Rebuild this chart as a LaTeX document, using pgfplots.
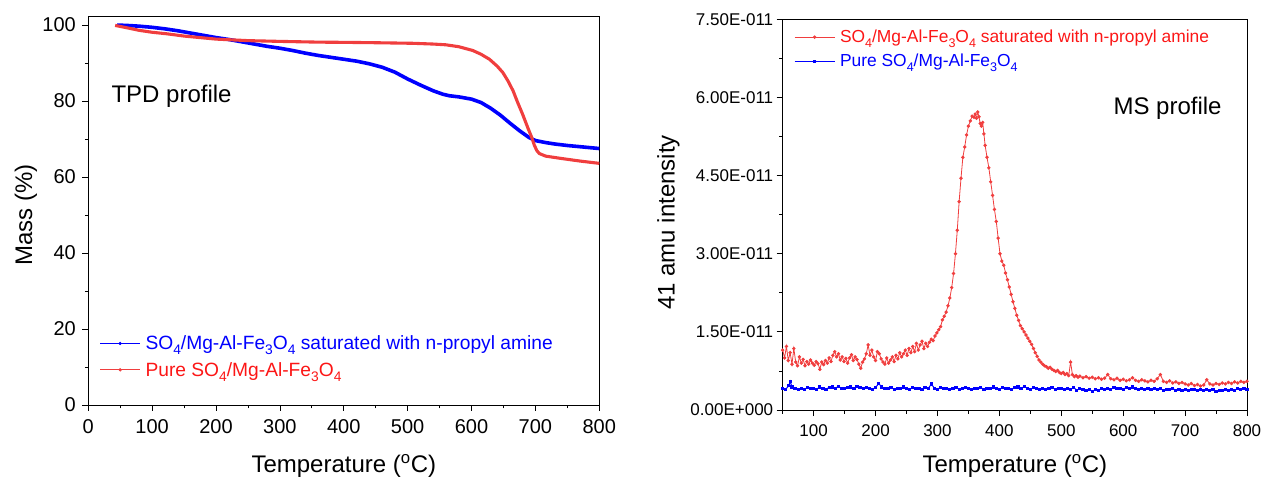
\documentclass[border=0pt]{standalone}
\usepackage{fontspec}
\setmainfont{Liberation Sans}
\usepackage{graphicx}
\usepackage{pgfplots}
\pgfplotsset{compat=1.18}
\definecolor{tgred}{RGB}{240,62,62}
\definecolor{txred}{RGB}{252,22,22}
\definecolor{tgblue}{RGB}{0,0,255}
\newcommand{\fs}[1]{\fontsize{#1}{#1}\selectfont}
\newcommand{\sub}[1]{\raisebox{-0.27em}{\scalebox{0.72}{#1}}}
\newcommand{\cmpd}{SO\sub{4}/Mg-Al-Fe\sub{3}O\sub{4}}
\pgfplotsset{
  myleg/.style={
    legend cell align=left,
    legend image code/.code={%
      \draw[##1,mark=none] (0pt,0pt) -- (40pt,0pt);
      \draw[##1,only marks] plot coordinates {(20pt,0pt)};
    },
  },
}
\begin{document}
\begin{tikzpicture}[x=1pt,y=1pt]
\useasboundingbox (0,0) rectangle (1263,479);
% ---------------- left: TPD ----------------
\begin{axis}[
  at={(88.3pt,74pt)}, anchor=south west,
  scale only axis, width=511pt, height=388.3pt,
  xmin=0, xmax=800, ymin=0, ymax=102.2,
  xtick={0,100,...,800}, ytick={0,20,40,60,80,100},
  minor x tick num=1, minor y tick num=1,
  tick align=outside, xtick pos=bottom, ytick pos=left,
  major tick length=6pt, minor tick length=3.5pt,
  tick style={black, line width=0.8pt},
  axis line style={line width=0.9pt},
  ticklabel style={font=\fs{20}},
  xticklabel style={yshift=-5pt},
  yticklabel style={xshift=-3pt},
  /pgf/number format/assume math mode=true,
  xlabel={Temperature (\textsuperscript{o}C)},
  ylabel={Mass (\%)},
  label style={font=\fs{24}},
  xlabel style={at={(axis description cs:0.5,-0.175)}, anchor=base},
  ylabel style={at={(axis description cs:-0.122,0.49)}, anchor=center},
  myleg,
  legend style={at={(0.022,0.184)}, anchor=north west, draw=none, fill=none,
    font=\fs{19.2}, row sep=7pt, column sep=3pt, inner sep=0pt, nodes={inner sep=2pt}},
]
\addplot[tgblue, line width=3.6pt, forget plot] coordinates {
(45,100.0)(60,99.9)(80,99.7)(100,99.4)(120,99.0)(140,98.5)(160,97.9)(180,97.3)
(200,96.7)(220,96.2)(240,95.6)(260,95.0)(280,94.4)(300,93.9)(320,93.3)(340,92.6)
(360,92.0)(380,91.5)(400,91.0)(420,90.5)(440,89.8)(460,88.9)(480,87.6)(500,85.8)
(520,84.2)(540,82.7)(555,81.8)(565,81.4)(580,81.1)(600,80.5)(615,79.6)(630,78.1)
(645,76.3)(660,74.2)(675,72.2)(690,70.4)(700,69.6)(715,69.1)(730,68.7)(750,68.3)
(775,67.9)(800,67.5)};
\addplot[tgred, line width=3.1pt, forget plot] coordinates {
(42,99.9)(60,99.3)(80,98.6)(100,98.1)(123,97.7)(150,97.1)(175,96.7)(200,96.3)
(250,95.9)(300,95.7)(362,95.5)(400,95.45)(450,95.35)(508,95.2)(540,95.0)(560,94.8)
(580,94.3)(602,93.3)(615,92.3)(628,91.0)(640,89.2)(649,87.5)(657,85.3)(665,82.7)
(672,79.7)(680,76.5)(688,73.0)(694,70.5)(698,68.5)(702,67.0)(706,66.2)(716,65.5)
(740,64.9)(770,64.2)(800,63.6)};
\addlegendimage{tgblue, line width=0.8pt, mark=*, mark size=1.2pt}
\addlegendentry[text=tgblue]{\cmpd{} saturated with n-propyl amine}
\addlegendimage{tgred, line width=0.8pt, mark=*, mark size=1.2pt}
\addlegendentry[text=txred]{Pure \cmpd}
\end{axis}
\node[anchor=base west, font=\fs{24}] at (108,376.3) {TPD profile};
% ---------------- right: MS ----------------
\begin{axis}[
  at={(782.7pt,69pt)}, anchor=south west,
  scale only axis, width=464.3pt, height=390.7pt,
  xmin=50, xmax=800, ymin=0, ymax=7.5,
  xtick={100,200,...,800}, minor xtick={50,150,...,750},
  ytick={0,1.5,3,4.5,6,7.5}, minor ytick={0.75,2.25,3.75,5.25,6.75},
  yticklabels={0.00E+000,1.50E-011,3.00E-011,4.50E-011,6.00E-011,7.50E-011},
  tick align=outside, xtick pos=bottom, ytick pos=left,
  major tick length=6pt, minor tick length=3.5pt,
  tick style={black, line width=0.8pt},
  axis line style={line width=0.9pt},
  ticklabel style={font=\fs{17}},
  xticklabel style={yshift=-5pt},
  /pgf/number format/assume math mode=true,
  xlabel={Temperature (\textsuperscript{o}C)},
  ylabel={41 amu intensity},
  label style={font=\fs{24}},
  xlabel style={at={(axis description cs:0.5,-0.161)}, anchor=base},
  ylabel style={at={(axis description cs:-0.246,0.48)}, anchor=center},
  myleg,
  legend style={at={(0.024,0.978)}, anchor=north west, draw=none, fill=none,
    font=\fs{17.4}, row sep=6pt, column sep=3pt, inner sep=0pt, nodes={inner sep=2pt}},
]
\addplot[tgred, line width=0.8pt, mark=*, mark size=1.3pt] coordinates {
(50,1.15)(53,1.00)(56,1.22)(59,0.95)(62,1.10)(65,0.88)(68,1.18)(71,0.92)(74,0.85)
(77,1.02)(80,0.90)(83,0.97)(86,0.85)(89,0.93)(92,0.88)(95,0.96)(98,0.90)(101,0.86)
(104,0.93)(107,0.89)(110,0.78)(113,0.92)(116,0.87)(119,0.95)(122,0.90)(125,1.00)
(128,0.93)(131,1.05)(134,1.12)(137,1.02)(140,1.08)(143,0.96)(146,1.02)(149,0.93)
(152,0.99)(155,0.90)(158,1.00)(161,1.06)(164,0.95)(167,1.02)(170,0.97)(173,0.88)
(176,0.80)(179,0.92)(182,0.98)(185,1.08)(188,1.25)(191,1.05)(194,1.15)(197,1.02)
(200,0.95)(203,1.12)(206,1.08)(209,0.98)(212,0.92)(215,0.88)(218,1.00)(221,0.90)
(224,0.96)(227,1.02)(230,0.93)(233,1.05)(236,0.98)(239,1.10)(242,1.02)(245,1.08)
(248,1.15)(251,1.05)(254,1.18)(257,1.10)(260,1.22)(263,1.12)(266,1.28)(269,1.15)
(272,1.25)(275,1.32)(278,1.18)(281,1.28)(284,1.22)(287,1.30)(290,1.36)(293,1.33)
(296,1.42)(299,1.48)(302,1.54)(305,1.60)(308,1.73)(311,1.80)(314,1.88)(317,2.00)
(320,2.15)(323,2.35)(326,2.62)(329,3.00)(332,3.45)(335,4.00)(338,4.45)(341,4.85)
(344,5.05)(347,5.28)(350,5.45)(353,5.55)(356,5.64)(359,5.62)(361,5.68)(363,5.60)
(365,5.72)(367,5.63)(369,5.50)(371,5.45)(373,5.52)(375,5.30)(377,5.08)(380,4.85)
(383,4.65)(386,4.38)(389,4.12)(392,3.85)(395,3.62)(398,3.30)(401,3.00)(404,2.86)
(407,2.78)(410,2.63)(413,2.50)(416,2.36)(419,2.22)(422,2.08)(425,1.95)(428,1.82)
(431,1.72)(434,1.62)(437,1.56)(440,1.50)(443,1.44)(446,1.38)(449,1.32)(452,1.26)
(455,1.18)(458,1.10)(461,1.03)(464,0.96)(467,0.92)(470,0.88)(473,0.85)(476,0.83)
(479,0.80)(482,0.82)(485,0.78)(488,0.76)(491,0.74)(494,0.76)(497,0.72)(500,0.70)
(503,0.72)(506,0.68)(509,0.70)(512,0.66)(515,0.92)(518,0.68)(521,0.64)(524,0.66)
(527,0.63)(530,0.65)(535,0.62)(540,0.64)(545,0.61)(550,0.63)(555,0.60)(560,0.62)
(565,0.59)(570,0.61)(575,0.68)(580,0.60)(585,0.58)(590,0.61)(595,0.57)(600,0.59)
(605,0.56)(610,0.58)(615,0.62)(620,0.57)(625,0.55)(630,0.58)(635,0.56)(640,0.54)
(645,0.57)(650,0.55)(655,0.60)(660,0.68)(665,0.55)(670,0.53)(675,0.56)(680,0.52)
(685,0.54)(690,0.51)(695,0.53)(700,0.50)(705,0.48)(710,0.51)(715,0.47)(720,0.49)
(725,0.46)(730,0.48)(735,0.58)(740,0.50)(745,0.48)(750,0.51)(755,0.49)(760,0.52)
(765,0.50)(770,0.53)(775,0.51)(780,0.54)(785,0.52)(790,0.55)(795,0.53)(800,0.55)};
\addlegendentry[text=txred]{\cmpd{} saturated with n-propyl amine}
\addplot[tgblue, line width=1pt, mark=square*, mark size=1.1pt] coordinates {
(50,0.42)(55,0.40)(60,0.47)(62,0.55)(65,0.44)(70,0.41)(75,0.39)(80,0.42)(85,0.40)
(90,0.43)(95,0.41)(100,0.42)(105,0.40)(110,0.44)(115,0.42)(120,0.40)(125,0.43)
(130,0.44)(135,0.42)(140,0.45)(145,0.42)(150,0.41)(155,0.43)(160,0.44)(165,0.42)
(170,0.45)(175,0.43)(180,0.41)(185,0.43)(190,0.42)(195,0.40)(200,0.43)(205,0.51)
(210,0.44)(215,0.42)(220,0.41)(225,0.43)(230,0.40)(235,0.42)(240,0.41)(245,0.44)
(250,0.42)(255,0.40)(260,0.43)(265,0.41)(270,0.42)(275,0.40)(280,0.43)(285,0.41)
(290,0.50)(295,0.42)(300,0.40)(305,0.43)(310,0.41)(315,0.42)(320,0.39)(325,0.42)
(330,0.43)(335,0.40)(340,0.41)(345,0.43)(350,0.41)(355,0.39)(360,0.42)(365,0.41)
(370,0.43)(375,0.40)(380,0.42)(385,0.41)(390,0.44)(395,0.42)(400,0.40)(405,0.43)
(410,0.41)(415,0.42)(420,0.40)(425,0.43)(430,0.44)(435,0.41)(440,0.45)(445,0.42)
(450,0.40)(455,0.43)(460,0.41)(465,0.39)(470,0.42)(475,0.40)(480,0.41)(485,0.43)
(490,0.40)(495,0.42)(500,0.41)(505,0.39)(510,0.42)(515,0.40)(520,0.43)(525,0.38)
(530,0.41)(535,0.39)(540,0.37)(545,0.40)(550,0.36)(555,0.39)(560,0.38)(565,0.41)
(570,0.39)(575,0.42)(580,0.40)(585,0.43)(590,0.41)(595,0.42)(600,0.40)(605,0.43)
(610,0.41)(615,0.44)(620,0.42)(625,0.40)(630,0.41)(635,0.39)(640,0.41)(645,0.40)
(650,0.42)(655,0.39)(660,0.41)(665,0.38)(670,0.40)(675,0.39)(680,0.41)(685,0.38)
(690,0.40)(695,0.37)(700,0.39)(705,0.38)(710,0.40)(715,0.39)(720,0.37)(725,0.40)
(730,0.38)(735,0.39)(740,0.37)(745,0.39)(750,0.36)(755,0.38)(760,0.37)(765,0.39)
(770,0.38)(775,0.40)(780,0.38)(785,0.41)(790,0.39)(795,0.41)(800,0.40)};
\addlegendentry[text=tgblue]{Pure \cmpd}
\end{axis}
\node[anchor=base west, font=\fs{24}] at (1110,364) {MS profile};
\end{tikzpicture}
\end{document}
